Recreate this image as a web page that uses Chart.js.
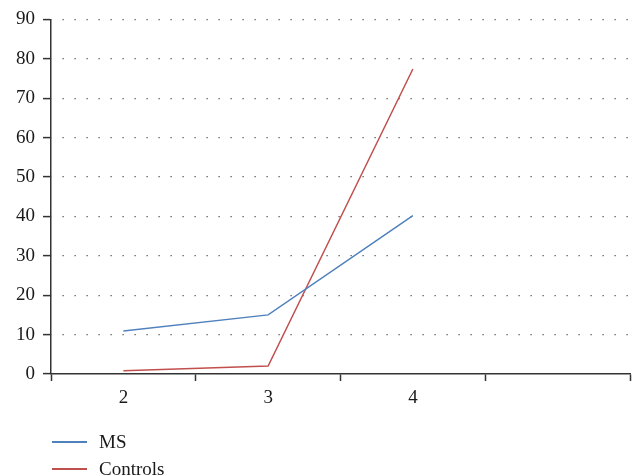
<!DOCTYPE html>
<html>
<head>
<meta charset="utf-8">
<script src="https://cdn.jsdelivr.net/npm/chart.js@4"></script>
<style>
  html, body { margin: 0; padding: 0; background: #fff; }
  #wrap { position: relative; width: 636px; height: 476px; }
  #legend {
    position: absolute; left: 52px; top: 428px;
    font-family: 'Liberation Serif', 'Times New Roman', serif;
    font-size: 19px; color: #1a1a1a;
  }
  .item { display: flex; align-items: center; height: 27px; }
  .swatch { display: inline-block; width: 35px; height: 2px; margin-right: 12px; }
</style>
</head>
<body>
<div id="wrap">
  <canvas id="chart" width="636" height="476"></canvas>
  <div id="legend"></div>
</div>
<script>
// categories (last slot is empty in the original)
const categories = ['2', '3', '4', ''];
const msValues = [10.9, 15.0, 40.2];
const controlValues = [0.8, 2.0, 77.4];
const yTicks = [0, 10, 20, 30, 40, 50, 60, 70, 80, 90];

const seriesList = [
  { label: 'MS', data: msValues, color: '#4f81bd' },
  { label: 'Controls', data: controlValues, color: '#c0504d' }
];

const textColor = '#1a1a1a';
const axisColor = '#333333';
const serif = "'Liberation Serif', 'Times New Roman', serif";

const ctx = document.getElementById('chart');
new Chart(ctx, {
  type: 'line',
  data: {
    labels: categories,
    datasets: seriesList.map(s => ({
      label: s.label,
      data: s.data,
      borderColor: s.color,
      backgroundColor: s.color,
      borderWidth: 1.5,
      pointRadius: 0,
      tension: 0,
      fill: false
    }))
  },
  options: {
    responsive: false,
    animation: false,
    layout: { padding: { top: 17, right: 6, bottom: 0, left: 0 } },
    plugins: { legend: { display: false }, tooltip: { enabled: false } },
    scales: {
      x: {
        offset: true,
        grid: {
          offset: true,
          drawOnChartArea: false,
          drawTicks: true,
          tickLength: 7,
          tickColor: axisColor,
          tickWidth: 1.5
        },
        border: { color: axisColor, width: 1.5 },
        ticks: { color: textColor, font: { family: serif, size: 19 }, padding: 6, maxRotation: 0 },
        afterFit: scale => { scale.height = 102; }
      },
      y: {
        min: 0,
        max: 90,
        afterBuildTicks: scale => { scale.ticks = yTicks.map(v => ({ value: v })); },
        grid: {
          color: c => (c.tick && c.tick.value === 0 ? 'rgba(0,0,0,0)' : '#4a4a4a'),
          lineWidth: 1.2,
          tickLength: 8,
          tickColor: axisColor,
          tickWidth: 1.5
        },
        // in v4 the grid line dash lives under border
        border: { color: axisColor, width: 1.5, dash: [1.2, 10.8], dashOffset: 1 },
        ticks: { color: textColor, font: { family: serif, size: 19 }, padding: 8 },
        afterFit: scale => { scale.width = 51; }
      }
    }
  }
});

// legend stacked vertically under the axis, like the original
const legendEl = document.getElementById('legend');
seriesList.forEach(s => {
  const row = document.createElement('div');
  row.className = 'item';
  row.innerHTML = '<span class="swatch" style="background-color:' + s.color + '"></span>' + s.label;
  legendEl.appendChild(row);
});
</script>
</body>
</html>
